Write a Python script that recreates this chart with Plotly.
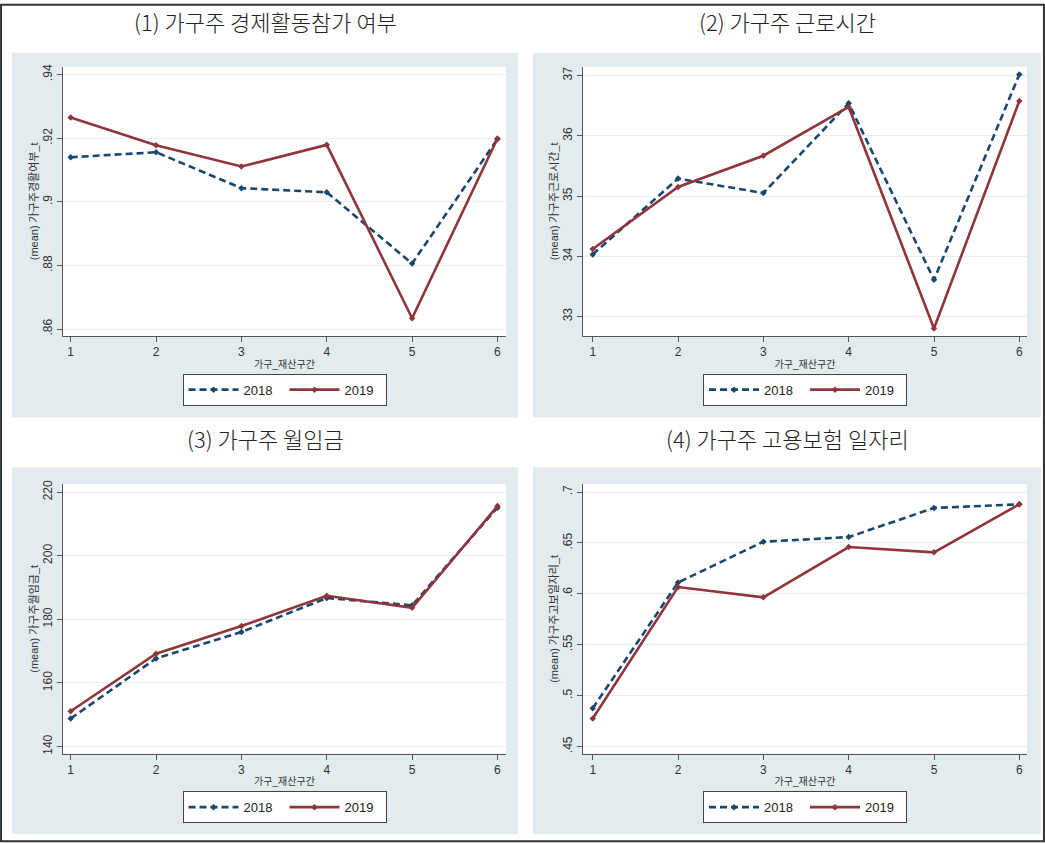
import plotly.graph_objects as go

# 데이터
groups = [1, 2, 3, 4, 5, 6]
years = ["2018", "2019"]

lfp_2018 = [0.9140, 0.9156, 0.9043, 0.9030, 0.8806, 0.9197]
lfp_2019 = [0.9265, 0.9178, 0.9111, 0.9179, 0.8634, 0.9199]

hours_2018 = [34.03, 35.29, 35.05, 36.54, 33.61, 37.02]
hours_2019 = [34.12, 35.15, 35.67, 36.48, 32.80, 36.58]

wage_2018 = [148.8, 167.7, 176.0, 186.7, 184.4, 215.1]
wage_2019 = [151.1, 169.2, 177.9, 187.4, 183.6, 215.6]

ins_2018 = [0.4877, 0.6112, 0.6512, 0.6558, 0.6844, 0.6880]
ins_2019 = [0.4776, 0.6067, 0.5966, 0.6460, 0.6408, 0.6880]

titles = ["(1) 가구주 경제활동참가 여부", "(2) 가구주 근로시간",
          "(3) 가구주 월임금", "(4) 가구주 고용보험 일자리"]
ytitles = ["(mean) 가구주경활여부_t", "(mean) 가구주근로시간_t",
           "(mean) 가구주월임금_t", "(mean) 가구주고보일자리_t"]
xtitle = "가구_재산구간"

lfp_ticks = [0.86, 0.88, 0.90, 0.92, 0.94]
lfp_text = [".86", ".88", ".9", ".92", ".94"]
hours_ticks = [33, 34, 35, 36, 37]
hours_text = ["33", "34", "35", "36", "37"]
wage_ticks = [140, 160, 180, 200, 220]
wage_text = ["140", "160", "180", "200", "220"]
ins_ticks = [0.45, 0.50, 0.55, 0.60, 0.65, 0.70]
ins_text = [".45", ".5", ".55", ".6", ".65", ".7"]

W, H = 1045, 843
NAVY = "#1a476f"
MAROON = "#90353b"
PANEL_BG = "#e2ecee"
GRID = "#e6eff0"
TXT = "#333333"


def xd(a, b):
    return [a / W, b / W]


def yd(top, bottom):
    return [1 - bottom / H, 1 - top / H]


# 픽셀 단위 배치: plot=(x0, x1, y0, y1), bg=패널 배경, ty=제목 중심 y
panels = [
    dict(s18=lfp_2018, s19=lfp_2019, tv=lfp_ticks, tt=lfp_text, yr=[0.8578, 0.9425],
         plot=(63, 506, 63, 334), bg=(12, 518, 49, 416), xr=[0.91, 6.10], ty=17),
    dict(s18=hours_2018, s19=hours_2019, tv=hours_ticks, tt=hours_text, yr=[32.675, 37.15],
         plot=(583, 1027, 63, 334), bg=(533, 1041, 49, 416), xr=[0.886, 6.09], ty=17),
    dict(s18=wage_2018, s19=wage_2019, tv=wage_ticks, tt=wage_text, yr=[137.8, 222.5],
         plot=(63, 506, 483, 754), bg=(12, 518, 466, 835), xr=[0.91, 6.10], ty=437),
    dict(s18=ins_2018, s19=ins_2019, tv=ins_ticks, tt=ins_text, yr=[0.4432, 0.7078],
         plot=(583, 1027, 483, 754), bg=(533, 1041, 466, 835), xr=[0.886, 6.09], ty=437),
]

fig = go.Figure()
shapes = []
annotations = []
layout = {}

for i, p in enumerate(panels):
    n = i + 1
    sfx = "" if n == 1 else str(n)
    lg = "legend" if n == 1 else f"legend{n}"
    x0, x1, y0, y1 = p["plot"]
    bx0, bx1, by0, by1 = p["bg"]

    # 패널 배경
    shapes.append(dict(type="rect", xref="paper", yref="paper", layer="below",
                       x0=bx0 / W, x1=bx1 / W, y0=1 - by1 / H, y1=1 - by0 / H,
                       fillcolor=PANEL_BG, line=dict(width=0)))
    shapes.append(dict(type="rect", xref="paper", yref="paper", layer="below",
                       x0=x0 / W, x1=x1 / W, y0=1 - y1 / H, y1=1 - y0 / H,
                       fillcolor="white", line=dict(width=0)))

    fig.add_trace(go.Scatter(
        x=groups, y=p["s18"], name=years[0], mode="lines+markers",
        line=dict(color=NAVY, width=2.6, dash="7px,4px"),
        marker=dict(symbol="diamond", size=5, color=NAVY),
        xaxis=f"x{sfx}", yaxis=f"y{sfx}", legend=lg))
    fig.add_trace(go.Scatter(
        x=groups, y=p["s19"], name=years[1], mode="lines+markers",
        line=dict(color=MAROON, width=2.6),
        marker=dict(symbol="diamond", size=5, color=MAROON),
        xaxis=f"x{sfx}", yaxis=f"y{sfx}", legend=lg))

    layout[f"xaxis{sfx}"] = dict(
        domain=xd(x0, x1), anchor=f"y{sfx}", range=p["xr"],
        tickvals=groups, ticktext=[str(g) for g in groups],
        ticks="outside", ticklen=5, tickcolor="#555", showgrid=False,
        showline=True, linecolor="#555", linewidth=1, zeroline=False,
        tickfont=dict(size=12, color=TXT),
        title=dict(text=xtitle, font=dict(size=10, color=TXT), standoff=2))
    layout[f"yaxis{sfx}"] = dict(
        domain=yd(y0, y1), anchor=f"x{sfx}", range=p["yr"],
        tickvals=p["tv"], ticktext=p["tt"], tickangle=-90,
        ticks="outside", ticklen=5, tickcolor="#555",
        showgrid=True, gridcolor=GRID, gridwidth=1,
        showline=True, linecolor="#555", linewidth=1, zeroline=False,
        tickfont=dict(size=12, color=TXT),
        title=dict(text=ytitles[i], font=dict(size=11, color=TXT), standoff=0))

    layout[lg] = dict(
        x=(x0 + x1) / 2 / W, y=1 - (y1 + 54) / H, xanchor="center", yanchor="middle",
        orientation="h", bgcolor="white", bordercolor="#444", borderwidth=1,
        font=dict(size=13, color="#222"), itemwidth=50, entrywidth=36,
        tracegroupgap=0)

    annotations.append(dict(
        text=titles[i], xref="paper", yref="paper", showarrow=False,
        x=(bx0 + bx1) / 2 / W, y=1 - p["ty"] / H, xanchor="center", yanchor="middle",
        font=dict(family="Noto Sans CJK KR", size=22, color="#222", weight=300)))

# 바깥 테두리
shapes.append(dict(type="rect", xref="paper", yref="paper", x0=0.001, x1=0.999,
                   y0=0.001, y1=0.999, line=dict(color="#333", width=2)))

fig.update_layout(
    width=W, height=H,
    margin=dict(l=0, r=0, t=0, b=0),
    paper_bgcolor="white", plot_bgcolor="rgba(0,0,0,0)",
    font=dict(family="Liberation Sans, Noto Sans CJK KR", color=TXT),
    shapes=shapes, annotations=annotations,
    **layout)

fig.write_html("out.html", config={"displayModeBar": False},
               post_script="document.body.style.margin='0';")
